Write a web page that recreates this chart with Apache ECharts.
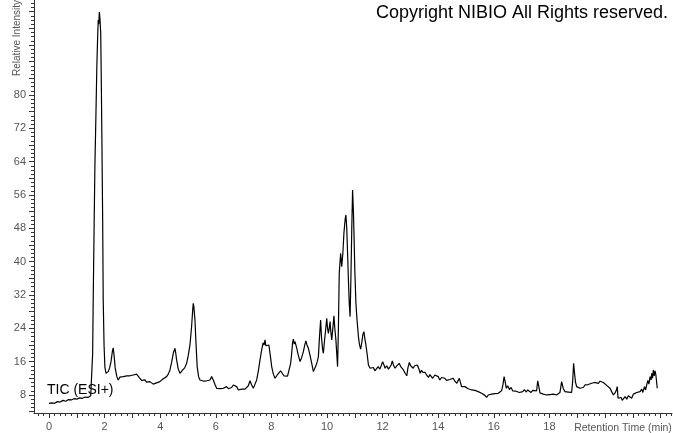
<!DOCTYPE html>
<html>
<head>
<meta charset="utf-8">
<script src="https://cdn.jsdelivr.net/npm/echarts@6/dist/echarts.min.js"></script>
<style>
html,body{margin:0;padding:0;background:#fff;}
#chart{width:673px;height:433px;}
</style>
</head>
<body>
<div id="chart"></div>
<script>
// Total ion chromatogram (retention time in min, relative intensity)
const ticTrace = [
 [0,6.0],[0.1,6.1],[0.2,6.0],[0.3,6.4],[0.4,6.3],[0.5,6.7],[0.6,6.5],[0.7,6.9],[0.8,6.8],[0.9,7.1],[1.0,7.0],[1.1,7.3],[1.2,7.2],[1.3,7.5],[1.4,7.4],[1.5,7.8],
 [1.54,7.6],[1.57,18],[1.59,30.8],[1.62,47],[1.65,62.7],[1.69,76],[1.72,86.7],[1.75,94],[1.77,98],[1.79,97],[1.81,99.9],[1.83,98.5],[1.86,94.9],[1.88,84],[1.90,70.9],[1.93,50],[1.95,30.8],[1.98,20],[2.01,14.7],[2.05,13.2],[2.08,12.8],[2.13,13.6],[2.18,14.5],[2.23,16],[2.28,18.5],[2.31,19.3],[2.34,17.5],[2.38,14.5],[2.44,12.4],[2.49,11.6],
 [2.55,12.3],[2.6,11.9],[2.67,12.4],[2.73,12.0],[2.8,12.6],[2.86,12.2],[2.91,12.6],[2.97,12.3],[3.03,12.8],[3.09,12.5],[3.15,13.0],[3.21,12.6],[3.27,12.0],[3.33,11.5],[3.39,11.2],[3.45,11.6],[3.51,11.1],[3.57,11.4],[3.63,11.2],[3.69,10.8],[3.75,10.6],[3.81,11.0],[3.87,10.9],[3.93,11.3],[3.99,11.2],[4.05,11.6],[4.11,11.9],[4.17,12.0],[4.23,12.4],[4.29,13.0],[4.35,14.0],[4.41,15.8],[4.47,18.0],[4.53,19.2],[4.56,18.0],[4.59,16.4],[4.65,14.2],[4.71,13.2],[4.76,13.6],[4.81,14.0],[4.88,14.5],[4.95,15.6],[5.01,17.5],[5.07,20],[5.13,24.5],[5.17,28.5],[5.19,30.0],[5.21,29.2],[5.25,26],[5.29,20],[5.33,14.8],[5.38,12.4],[5.43,11.6],[5.5,11.9],[5.57,11.3],[5.63,11.6],[5.67,11.4],[5.73,11.8],[5.79,11.6],[5.85,12.4],[5.91,11.6],[5.97,10.5],
 [6.03,9.6],[6.09,9.9],[6.15,9.5],[6.21,9.8],[6.27,9.6],[6.33,9.9],[6.39,10.0],[6.45,9.5],[6.51,9.2],[6.57,9.8],[6.63,10.4],[6.69,10.8],[6.75,10.0],[6.81,9.2],[6.87,9.6],[6.93,9.4],[6.99,9.6],[7.05,9.4],[7.11,9.2],[7.17,10.2],[7.23,11.4],[7.29,10.4],[7.35,9.6],[7.41,10.6],[7.47,11.6],[7.53,13.8],[7.59,16.4],[7.65,18.8],[7.7,20.5],[7.74,20.0],[7.77,21.2],[7.8,19.8],[7.83,20.0],[7.87,19.6],[7.91,20.0],[7.96,17.5],
 [8.01,14.8],[8.07,13.0],[8.13,12.0],[8.17,12.4],[8.21,12.8],[8.27,13.2],[8.33,13.8],[8.39,13.4],[8.45,12.6],[8.52,12.8],[8.58,12.5],[8.64,12.6],[8.69,15.5],[8.73,18.0],[8.76,20.5],[8.79,21.4],[8.82,20.2],[8.85,20.8],[8.88,20.4],[8.92,19.0],[8.95,18.0],[8.99,17.0],[9.03,16.0],[9.09,17.0],[9.15,18.4],[9.2,20.0],[9.24,21.0],[9.28,20.0],[9.33,19.2],[9.39,17.5],[9.45,15.6],[9.51,13.6],[9.55,14.2],[9.60,15.0],[9.65,16.0],[9.69,17.2],[9.73,22],[9.77,26],[9.80,22],[9.84,19],[9.87,18],[9.91,21],[9.95,23.6],[9.99,26.4],
 [10.02,24],[10.05,22.8],[10.08,24.0],[10.11,25.6],[10.14,23],[10.17,21.2],[10.21,24],[10.25,27],[10.28,24],[10.32,21.2],[10.35,18],[10.38,14.8],[10.41,24],[10.44,37.2],[10.49,42],[10.53,38.8],[10.57,42],[10.61,47],[10.65,50],[10.68,51.2],[10.71,48],[10.74,42],[10.77,35.6],[10.8,30],[10.83,26.8],[10.86,36],[10.89,47.6],[10.92,57.2],[10.95,52],[10.97,46.9],[11.0,38],[11.04,30],[11.08,26],[11.13,22],[11.17,20],[11.21,19],[11.25,20.5],[11.29,22.5],[11.33,23.2],[11.36,21.5],[11.39,20.4],[11.44,18],[11.49,15.2],[11.55,14.4],[11.61,14.0],[11.67,14.6],[11.72,13.8],[11.78,14.0],[11.84,14.8],[11.9,14.2],[11.95,15.0],
 [12.0,16.0],[12.05,15.2],[12.09,14.4],[12.15,15.0],[12.21,14.2],[12.27,14.4],[12.31,15.2],[12.35,16.2],[12.4,15.0],[12.45,14.4],[12.5,14.9],[12.55,15.3],[12.6,15.6],[12.65,14.8],[12.7,15.2],[12.75,14.0],[12.81,13.2],[12.87,12.6],[12.91,14.5],[12.96,15.8],[13.01,15.0],[13.05,14.8],[13.1,14.4],[13.15,15.0],[13.2,14.7],[13.25,15.2],[13.28,15.6],[13.32,14.0],[13.35,13.2],[13.4,13.9],[13.45,13.4],[13.5,13.8],[13.53,13.4],[13.58,12.8],[13.65,12.2],[13.7,12.9],[13.75,12.5],[13.8,12.0],[13.83,12.0],[13.88,12.8],[13.95,13.2],
 [14.0,12.4],[14.06,11.6],[14.12,12.2],[14.18,11.8],[14.24,12.0],[14.3,11.5],[14.36,11.2],[14.42,11.7],[14.48,11.4],[14.54,12.0],[14.6,11.3],[14.67,10.8],[14.72,11.5],[14.76,12.0],[14.8,11.0],[14.84,10.0],[14.9,10.4],[14.96,10.0],[15.02,9.8],[15.08,9.5],[15.14,9.7],[15.2,9.2],[15.26,9.5],[15.32,9.1],[15.38,9.2],[15.44,8.8],[15.5,8.9],[15.56,8.4],[15.62,8.1],[15.68,7.9],[15.74,7.4],[15.8,8.0],[15.86,7.9],[15.92,8.2],[15.98,8.5],
 [16.04,8.3],[16.1,8.6],[16.16,8.4],[16.22,8.8],[16.28,9.0],[16.33,10.5],[16.37,12.4],[16.4,11.5],[16.45,9.6],[16.5,10.2],[16.56,9.3],[16.62,9.8],[16.68,9.0],[16.74,9.4],[16.8,8.9],[16.86,9.2],[16.92,8.6],[16.98,9.0],[17.04,8.8],[17.1,9.3],[17.16,8.7],[17.22,9.2],[17.28,9.0],[17.34,8.6],[17.4,9.1],[17.46,8.8],[17.54,9.0],[17.58,11.4],[17.62,10.0],[17.66,8.5],[17.72,8.8],[17.78,8.2],[17.84,8.5],[17.9,8.0],[17.96,8.4],
 [18.02,8.1],[18.08,8.5],[18.14,8.2],[18.2,8.6],[18.26,8.0],[18.32,8.3],[18.38,8.6],[18.44,11.2],[18.5,9.5],[18.56,8.8],[18.62,9.1],[18.68,8.7],[18.74,9.0],[18.8,8.6],[18.84,11.5],[18.87,15.6],[18.9,13.5],[18.94,11.0],[18.98,10.0],[19.04,10.4],[19.1,9.6],[19.16,10.0],[19.22,9.8],[19.28,10.4],[19.34,10.0],[19.4,10.5],[19.46,10.2],[19.52,10.8],[19.57,10.4],[19.63,11.0],[19.7,11.2],[19.76,10.8],[19.82,11.3],[19.88,10.9],[19.94,11.0],
 [20.0,10.6],[20.06,10.3],[20.12,10.0],[20.18,9.6],[20.24,8.8],[20.3,8.0],[20.36,8.5],[20.4,9.0],[20.44,10.0],[20.47,7.2],[20.52,7.0],[20.58,7.4],[20.62,6.7],[20.66,6.8],[20.72,7.6],[20.78,7.0],[20.84,7.8],[20.9,7.6],[20.96,7.2],[21.02,8.2],[21.08,7.9],[21.14,8.6],[21.2,8.2],[21.26,8.8],[21.32,9.4],[21.36,8.6],[21.42,10.0],[21.46,9.2],[21.5,10.4],[21.54,11.5],[21.58,10.6],[21.62,12.4],[21.66,11.6],[21.68,13.2],[21.71,12.0],[21.74,14.0],[21.77,12.6],[21.8,13.8],[21.83,12.8],[21.86,13.2],[21.88,9.6]
];
const xTickLabels = [0, 2, 4, 6, 8, 10, 12, 14, 16, 18];
const yTickLabels = [8, 16, 24, 32, 40, 48, 56, 64, 72, 80];

const X_MIN = -0.54, X_MAX = 22.41;
const Y_MIN = 3.67, Y_MAX = 102.79;

function range(a, b, step) {
  const out = [];
  for (let v = a; v <= b + 1e-9; v += step) out.push(Math.round(v * 1000) / 1000);
  return out;
}

const labelStyle = { color: '#555', fontSize: 11, fontFamily: 'Liberation Sans, Arial, sans-serif' };
const axisLine = { show: true, onZero: false, lineStyle: { color: '#333', width: 1 } };

const chart = echarts.init(document.getElementById('chart'), null, { renderer: 'canvas' });
chart.setOption({
  animation: false,
  backgroundColor: '#fff',
  grid: { left: 34, right: 1, top: 0, bottom: 20, containLabel: false },
  xAxis: [
    {
      type: 'value', min: X_MIN, max: X_MAX, position: 'bottom',
      axisLine: axisLine,
      axisTick: { show: true, customValues: range(0, 22, 1), length: 5, lineStyle: { color: '#333' } },
      axisLabel: Object.assign({ customValues: xTickLabels, margin: 8 }, labelStyle),
      splitLine: { show: false }
    },
    {
      type: 'value', min: X_MIN, max: X_MAX, position: 'bottom', offset: 0,
      axisLine: { show: false, onZero: false },
      axisTick: { show: true, customValues: range(-0.4, 22.4, 0.2), length: 3, lineStyle: { color: '#333' } },
      axisLabel: { show: false },
      splitLine: { show: false }
    }
  ],
  yAxis: [
    {
      type: 'value', min: Y_MIN, max: Y_MAX, position: 'left',
      axisLine: axisLine,
      axisTick: { show: true, customValues: range(4, 100, 4), length: 5, lineStyle: { color: '#333' } },
      axisLabel: Object.assign({ customValues: yTickLabels, margin: 8 }, labelStyle),
      splitLine: { show: false }
    },
    {
      type: 'value', min: Y_MIN, max: Y_MAX, position: 'left', offset: 0,
      axisLine: { show: false, onZero: false },
      axisTick: { show: true, customValues: range(4, 102, 1), length: 3, lineStyle: { color: '#333' } },
      axisLabel: { show: false },
      splitLine: { show: false }
    }
  ],
  series: [{
    type: 'line',
    xAxisIndex: 0, yAxisIndex: 0,
    data: ticTrace,
    showSymbol: false,
    smooth: false,
    clip: true,
    lineStyle: { color: '#000', width: 1.2 },
    z: 3
  }],
  graphic: [
    { type: 'text', left: 376, top: 4, z: 10,
      style: { text: 'Copyright NIBIO All Rights reserved.', fill: '#000', font: '18px "Liberation Sans", Arial, sans-serif' } },
    { type: 'text', left: 47, top: 383, z: 10,
      style: { text: 'TIC (ESI+)', fill: '#000', font: '14px "Liberation Sans", Arial, sans-serif' } },
    { type: 'text', x: 17, y: 38, rotation: Math.PI / 2, z: 10,
      style: { text: 'Relative Intensity', fill: '#555', font: '10px "Liberation Sans", Arial, sans-serif', align: 'center', verticalAlign: 'middle' } },
    { type: 'text', x: 623, y: 428, z: 10,
      style: { text: 'Retention Time (min)', fill: '#555', font: '10.5px "Liberation Sans", Arial, sans-serif', align: 'center', verticalAlign: 'middle' } }
  ]
});
</script>
</body>
</html>
